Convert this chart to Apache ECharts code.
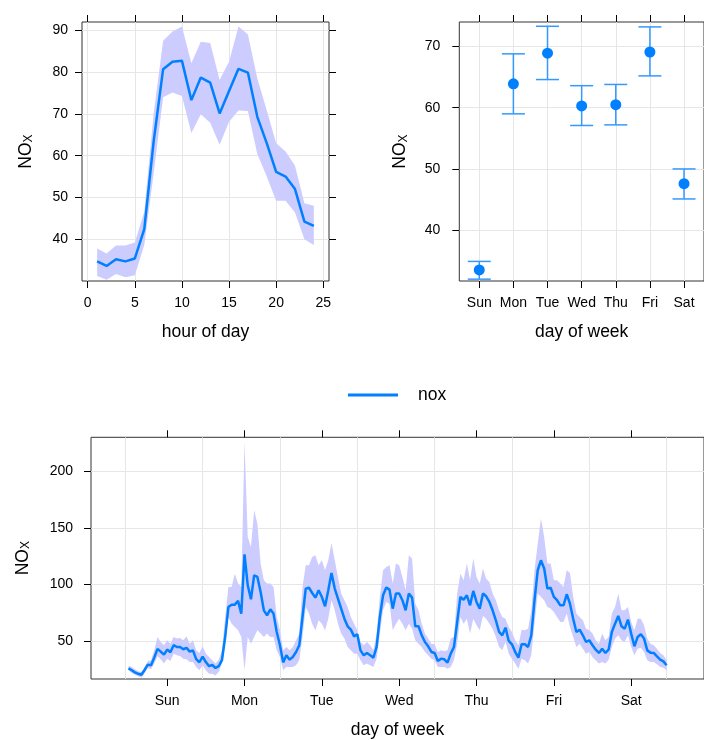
<!DOCTYPE html>
<html>
<head>
<meta charset="utf-8">
<title>NOx time variation</title>
<script src="https://cdn.jsdelivr.net/npm/echarts@6.0.0/dist/echarts.min.js"></script>
<style>
  html, body { margin: 0; padding: 0; background: #fff; }
  #chart { width: 704px; height: 740px; }
</style>
</head>
<body>
<div id="chart"></div>
<script>
// ---- data ----
const days = ['Sun', 'Mon', 'Tue', 'Wed', 'Thu', 'Fri', 'Sat'];

// hour of day panel
const hourOfDay = [1, 2, 3, 4, 5, 6, 7, 8, 9, 10, 11, 12, 13, 14, 15, 16, 17, 18, 19, 20, 21, 22, 23, 24];
const hourMean = [34.7, 33.6, 35.2, 34.7, 35.4, 42.4, 63.5, 80.7, 82.5, 82.7, 73.3, 78.7,
  77.5, 70.1, 75.5, 80.8, 79.9, 69.3, 63.0, 56.1, 55.0, 52.0, 44.2, 43.2];
const hourUpper = [37.8, 36.6, 38.5, 38.5, 39.2, 46.6, 70.1, 87.5, 89.7, 90.9, 82.1, 87.3,
  87.0, 78.1, 82.5, 90.9, 89.0, 78.5, 70.9, 63.0, 61.0, 57.6, 48.6, 48.0];
const hourLower = [31.2, 30.3, 31.7, 30.9, 31.4, 38.6, 55.8, 74.0, 75.1, 74.3, 65.4, 69.9,
  67.9, 62.6, 68.1, 70.8, 70.7, 60.4, 55.0, 49.2, 49.2, 46.4, 40.0, 38.6];
const hourTicks = [0, 5, 10, 15, 20, 25];
const hourValueTicks = [40, 50, 60, 70, 80, 90];

// day of week panel
const dayMean = [33.5, 63.9, 68.9, 60.3, 60.5, 69.1, 47.6];
const dayUpper = [34.9, 68.8, 73.3, 63.6, 63.8, 73.2, 50.0];
const dayLower = [32.0, 59.0, 64.6, 57.1, 57.2, 65.2, 45.1];
const dayTicks = [0, 1, 2, 3, 4, 5, 6];
const dayValueTicks = [40, 50, 60, 70];

// hour of week panel (168 hours, Sun..Sat, one row per day)
const weekMean = [
  25.8, 24.1, 22.3, 21.0, 20.1, 24.4, 29.1, 28.5, 35.4, 43.0, 40.6, 37.9, 42.4, 40.1, 46.3, 44.7, 44.7, 42.7, 44.0, 40.6, 41.7, 34.0, 31.2, 36.2,
  31.4, 27.8, 28.8, 26.1, 27.8, 33.0, 53.5, 80.0, 82.1, 82.1, 85.4, 74.2, 126.6, 99.2, 86.8, 108.1, 106.6, 93.3, 77.1, 72.7, 78.0, 74.2, 58.0, 46.2,
  31.1, 37.3, 33.5, 35.9, 40.3, 46.2, 71.2, 96.3, 97.2, 92.4, 88.3, 94.8, 88.9, 80.7, 94.8, 110.1, 96.3, 87.4, 78.6, 69.7, 63.0, 60.0, 54.1, 55.9,
  41.7, 37.3, 39.4, 37.3, 35.3, 44.7, 71.2, 90.4, 97.2, 95.4, 78.6, 91.9, 91.9, 86.0, 77.1, 91.9, 88.3, 63.0, 63.0, 55.0, 49.1, 45.3, 40.3, 39.4,
  32.3, 34.4, 33.8, 30.8, 38.8, 44.7, 66.8, 88.9, 86.5, 90.4, 81.5, 94.2, 84.5, 78.6, 92.0, 89.5, 84.5, 77.1, 68.3, 58.0, 55.0, 61.8, 50.0, 47.1,
  40.3, 35.3, 47.1, 47.1, 44.7, 55.0, 86.0, 112.5, 121.3, 114.0, 96.3, 97.2, 88.9, 86.0, 81.5, 81.5, 91.3, 83.0, 69.7, 58.0, 60.0, 55.0, 49.1, 50.6,
  46.2, 42.3, 39.4, 43.2, 39.4, 42.3, 58.0, 65.3, 72.1, 63.0, 60.9, 68.9, 56.5, 45.3, 53.5, 55.9, 52.1, 41.7, 39.7, 39.4, 36.4, 33.5, 32.0, 28.5
];
const weekUpper = [
  28.2, 27.0, 25.0, 23.2, 22.6, 27.0, 32.3, 32.9, 41.7, 53.5, 49.1, 46.2, 50.6, 47.6, 53.5, 52.1, 52.7, 50.6, 54.1, 47.6, 50.6, 41.7, 39.4, 45.3,
  38.8, 35.9, 32.9, 30.0, 33.5, 41.7, 71.2, 97.7, 97.7, 109.5, 100.7, 97.7, 226.0, 142.0, 133.0, 165.5, 153.7, 118.4, 103.6, 100.7, 100.7, 97.7, 71.2, 59.4,
  41.7, 44.7, 41.7, 44.7, 50.6, 56.5, 97.7, 116.9, 116.9, 124.3, 125.7, 116.9, 121.3, 112.5, 121.3, 136.6, 121.3, 106.6, 91.9, 86.0, 80.1, 71.2, 65.3, 59.4,
  49.1, 46.2, 49.1, 46.2, 41.7, 56.5, 88.9, 112.5, 115.4, 116.9, 100.7, 118.4, 116.9, 106.6, 94.8, 125.7, 122.8, 83.0, 77.1, 65.3, 56.5, 52.1, 47.6, 47.1,
  40.3, 41.7, 41.2, 41.7, 52.1, 53.5, 91.9, 109.5, 103.6, 118.4, 103.6, 122.8, 106.6, 100.7, 114.0, 105.1, 102.2, 91.9, 86.0, 77.1, 71.2, 69.7, 62.4, 58.0,
  50.6, 46.2, 60.0, 59.4, 60.9, 77.1, 112.5, 136.1, 158.2, 141.9, 118.4, 118.4, 103.6, 103.6, 100.7, 97.7, 112.5, 110.0, 89.0, 74.2, 71.2, 68.3, 60.9, 59.4,
  56.5, 50.6, 47.6, 56.5, 50.6, 53.5, 74.2, 80.1, 91.9, 77.1, 77.1, 80.1, 66.8, 59.4, 69.7, 69.7, 63.9, 52.1, 47.6, 46.2, 43.2, 39.4, 37.3, 32.9
];
const weekLower = [
  24.1, 21.7, 20.2, 18.8, 17.6, 21.7, 26.1, 25.0, 30.0, 36.4, 33.8, 30.0, 34.4, 32.3, 38.8, 37.3, 36.7, 34.4, 33.8, 31.4, 31.4, 27.0, 24.1, 28.5,
  24.1, 21.1, 21.1, 19.6, 22.6, 30.0, 47.6, 71.2, 65.3, 62.4, 59.4, 53.5, 24.1, 53.5, 47.6, 53.5, 59.4, 56.5, 53.5, 56.5, 53.5, 53.5, 41.7, 35.9,
  24.1, 27.0, 27.0, 27.0, 28.5, 32.9, 53.5, 80.1, 74.2, 65.3, 59.4, 68.3, 65.3, 59.4, 69.7, 86.0, 77.1, 65.3, 56.5, 52.1, 44.7, 41.7, 38.8, 38.8,
  32.9, 28.5, 30.0, 28.5, 27.0, 34.4, 56.5, 77.1, 84.5, 83.0, 59.4, 65.3, 69.7, 65.3, 59.4, 65.3, 60.9, 50.6, 47.6, 44.7, 40.3, 37.3, 34.4, 32.9,
  27.0, 27.0, 27.0, 25.5, 27.0, 32.9, 47.6, 71.2, 65.3, 69.7, 56.5, 69.7, 63.9, 59.4, 72.0, 69.7, 65.3, 60.9, 53.5, 44.7, 41.7, 49.1, 38.8, 34.4,
  30.0, 25.5, 34.4, 32.9, 30.0, 37.3, 65.3, 91.9, 88.9, 86.0, 80.1, 78.6, 75.6, 71.2, 66.8, 66.8, 74.2, 62.4, 53.5, 44.7, 47.6, 43.2, 38.8, 40.3,
  35.9, 32.9, 30.0, 31.4, 30.0, 33.5, 44.7, 52.1, 55.0, 50.6, 49.1, 55.0, 44.7, 37.3, 43.2, 44.1, 40.3, 32.9, 31.4, 31.4, 29.4, 27.0, 26.4, 24.1
];
const weekTicks = [13, 37, 61, 85, 109, 133, 157];   // day labels
const dayBreaks = [0, 24, 48, 72, 96, 120, 144, 168]; // vertical grid lines
const weekValueTicks = [50, 100, 150, 200];

// ---- styles ----
const FONT = '"Liberation Sans", Arial, sans-serif';
const LINE_COL = '#0080ff';
const BAND_COL = '#ccccff';
const tickLine = {color: '#000', width: 1};
const gridLine = {show: true, lineStyle: {color: '#e6e6e6', width: 1}};
const labelStyle = {color: '#000', fontSize: 14, fontFamily: FONT};
const titleStyle = {color: '#000', fontSize: 17.5, fontFamily: FONT};
const noxName = '{n|NO}{s|X}';
const noxStyle = {
  rich: {
    n: {fontSize: 17.5, fontFamily: FONT, color: '#000'},
    s: {fontSize: 12, fontFamily: FONT, color: '#000', verticalAlign: 'bottom'}
  }
};

// axis with ticks + labels (+ grid lines)
function mainAxis(gridIndex, min, max, ticks, extra) {
  return Object.assign({
    gridIndex, type: 'value', min, max,
    axisLine: {show: false, onZero: false},
    axisTick: {show: true, length: 7, lineStyle: tickLine, customValues: ticks},
    axisLabel: Object.assign({customValues: ticks}, labelStyle),
    splitLine: gridLine,
    nameLocation: 'middle'
  }, extra);
}

// mirrored axis on the opposite side: ticks only
function tickAxis(gridIndex, min, max, ticks, position) {
  return {
    gridIndex, type: 'value', min, max, position,
    axisLine: {show: false, onZero: false},
    axisTick: {show: true, length: 7, lineStyle: tickLine, customValues: ticks},
    axisLabel: {show: false},
    splitLine: {show: false}
  };
}

// confidence band drawn as one polygon through the axis scales
function bandSeries(xs, lower, upper, xAxisIndex, yAxisIndex) {
  const rows = xs.map((x, i) => [x, lower[i], upper[i]]);
  return {
    type: 'custom', xAxisIndex, yAxisIndex, silent: true, z: 1,
    data: rows,
    renderItem: (params, api) => {
      if (params.dataIndex !== 0) return null;
      const top = rows.map(r => api.coord([r[0], r[2]]));
      const bottom = rows.map(r => api.coord([r[0], r[1]])).reverse();
      return {
        type: 'polygon',
        shape: {points: top.concat(bottom)},
        style: {fill: BAND_COL, stroke: null}
      };
    }
  };
}

function meanSeries(xs, ys, xAxisIndex, yAxisIndex) {
  return {
    name: 'nox', type: 'line', xAxisIndex, yAxisIndex, z: 3,
    symbol: 'none', showSymbol: false,
    lineStyle: {color: LINE_COL, width: 2.5},
    itemStyle: {color: LINE_COL},
    data: xs.map((x, i) => [x, ys[i]])
  };
}

const weekHours = weekMean.map((v, i) => i + 1);

const chart = echarts.init(document.getElementById('chart'));

const option = {
  animation: false,
  backgroundColor: '#fff',
  textStyle: {fontFamily: FONT},
  legend: {
    data: ['nox'],
    left: 348, top: 386, padding: 0,
    icon: 'rect', itemWidth: 50, itemHeight: 3,
    itemStyle: {color: LINE_COL},
    textStyle: Object.assign({padding: [0, 0, 0, 15]}, titleStyle)
  },
  grid: [
    {left: 82, top: 22, width: 247, height: 259, show: true, borderColor: '#333', borderWidth: 1},
    {left: 459.3, top: 22, width: 245, height: 259, show: true, borderColor: '#333', borderWidth: 1},
    {left: 91, top: 437.3, width: 613.5, height: 241.7, show: true, borderColor: '#333', borderWidth: 1}
  ],
  xAxis: [
    mainAxis(0, -0.61, 25.61, hourTicks, {
      position: 'bottom', name: 'hour of day', nameGap: 42, nameTextStyle: titleStyle,
      axisLabel: Object.assign({customValues: hourTicks, margin: 15}, labelStyle)
    }),
    tickAxis(0, -0.61, 25.61, hourTicks, 'top'),
    mainAxis(1, -0.585, 6.585, dayTicks, {
      position: 'bottom', name: 'day of week', nameGap: 42, nameTextStyle: titleStyle,
      axisLabel: Object.assign({customValues: dayTicks, margin: 15, formatter: v => days[v]}, labelStyle)
    }),
    tickAxis(1, -0.585, 6.585, dayTicks, 'top'),
    mainAxis(2, -10.64, 179.6, weekTicks, {
      position: 'bottom', name: 'day of week', nameGap: 42, nameTextStyle: titleStyle,
      splitLine: {show: false},
      axisLabel: Object.assign({customValues: weekTicks, margin: 15,
        formatter: v => days[Math.round((v - 13) / 24)]}, labelStyle)
    }),
    tickAxis(2, -10.64, 179.6, weekTicks, 'top'),
    {
      // day boundaries as vertical grid lines
      gridIndex: 2, type: 'value', min: -10.64, max: 179.6, position: 'bottom',
      axisLine: {show: false, onZero: false},
      axisTick: {show: false, customValues: dayBreaks},
      axisLabel: {show: false, customValues: dayBreaks},
      splitLine: gridLine
    }
  ],
  yAxis: [
    mainAxis(0, 30, 92, hourValueTicks, {
      position: 'left', name: noxName, nameGap: 47, nameTextStyle: noxStyle,
      axisLabel: Object.assign({customValues: hourValueTicks, margin: 14}, labelStyle)
    }),
    tickAxis(0, 30, 92, hourValueTicks, 'right'),
    mainAxis(1, 31.7, 74.0, dayValueTicks, {
      position: 'left', name: noxName, nameGap: 50, nameTextStyle: noxStyle,
      axisLabel: Object.assign({customValues: dayValueTicks, margin: 19}, labelStyle)
    }),
    mainAxis(2, 16.4, 230, weekValueTicks, {
      position: 'left', name: noxName, nameGap: 59, nameTextStyle: noxStyle,
      axisLabel: Object.assign({customValues: weekValueTicks, margin: 18}, labelStyle)
    })
  ],
  series: [
    // hour of day
    bandSeries(hourOfDay, hourLower, hourUpper, 0, 0),
    meanSeries(hourOfDay, hourMean, 0, 0),

    // day of week: error bars + points
    {
      type: 'custom', xAxisIndex: 2, yAxisIndex: 2, z: 2, silent: true,
      data: dayTicks.map((d, i) => [d, dayLower[i], dayUpper[i]]),
      renderItem: (params, api) => {
        const lo = api.coord([api.value(0), api.value(1)]);
        const hi = api.coord([api.value(0), api.value(2)]);
        const w = 11.5;
        const style = {stroke: '#3399ff', lineWidth: 1.5};
        return {
          type: 'group',
          children: [
            {type: 'line', shape: {x1: lo[0], y1: lo[1], x2: hi[0], y2: hi[1]}, style},
            {type: 'line', shape: {x1: lo[0] - w, y1: lo[1], x2: lo[0] + w, y2: lo[1]}, style},
            {type: 'line', shape: {x1: hi[0] - w, y1: hi[1], x2: hi[0] + w, y2: hi[1]}, style}
          ]
        };
      }
    },
    {
      name: 'nox', type: 'scatter', xAxisIndex: 2, yAxisIndex: 2, z: 3,
      symbol: 'circle', symbolSize: 11,
      itemStyle: {color: LINE_COL, opacity: 1},
      data: dayTicks.map((d, i) => [d, dayMean[i]])
    },

    // hour of week
    bandSeries(weekHours, weekLower, weekUpper, 4, 3),
    meanSeries(weekHours, weekMean, 4, 3)
  ]
};

chart.setOption(option);
</script>
</body>
</html>
